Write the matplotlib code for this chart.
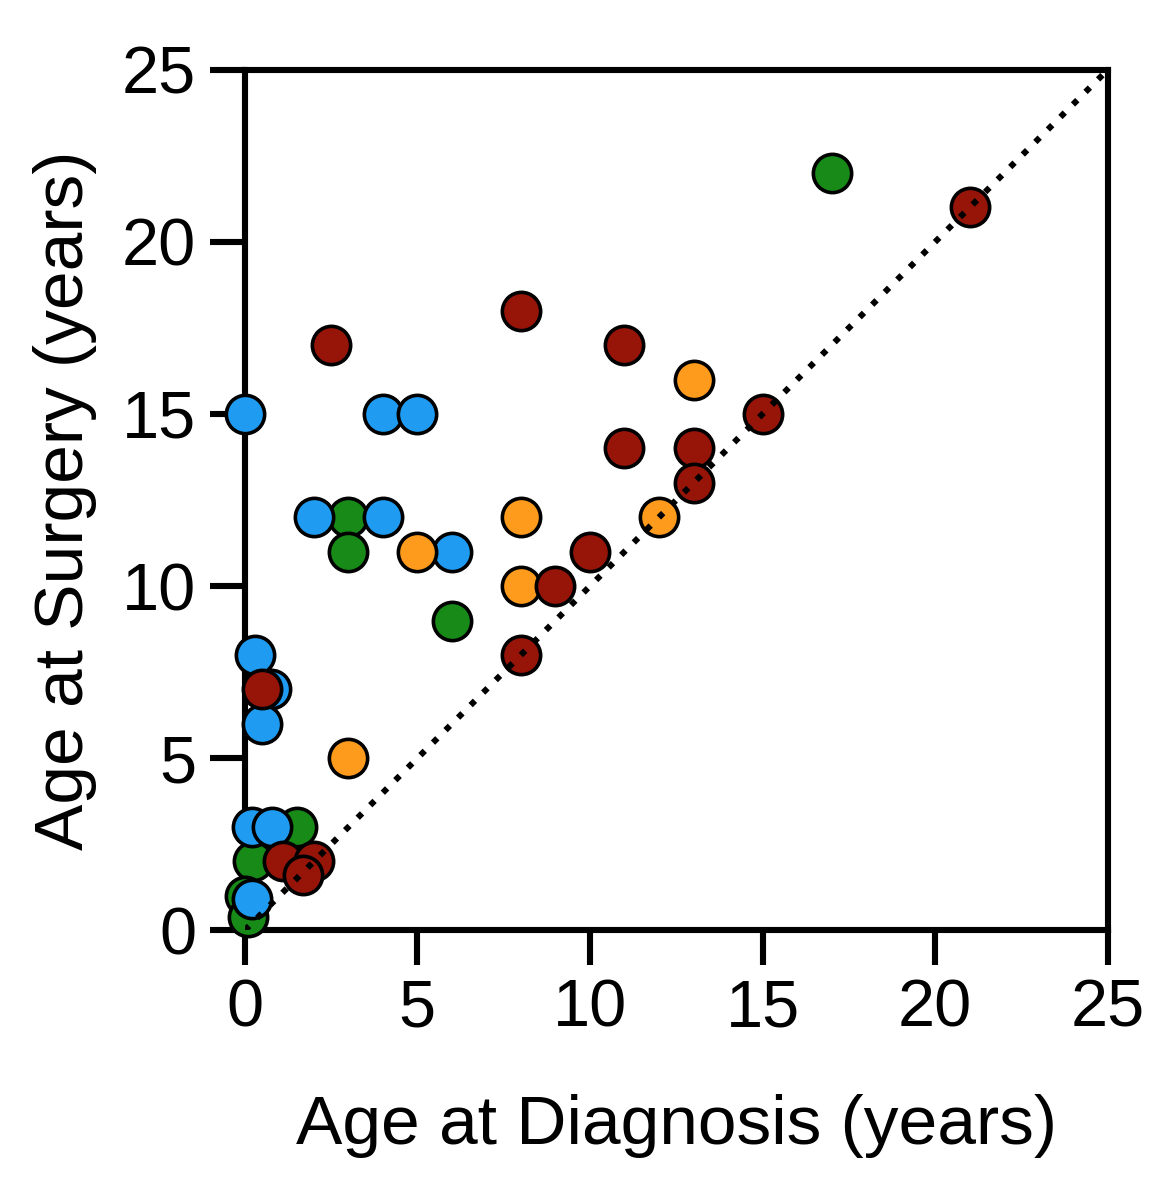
import matplotlib.pyplot as plt
import numpy as np

plt.rcParams['font.family'] = ['Liberation Sans', 'DejaVu Sans']

# age at diagnosis / age at surgery per group (years)
green_x = [6, 3, 3, 17, 1.5, 0.25, 0, 0.1]
green_y = [9, 12, 11, 22, 3, 2, 1, 0.4]

blue_x = [0, 4, 5, 2, 4, 6, 0.3, 0.75, 0.5, 0.2, 0.8, 0.2]
blue_y = [15, 15, 15, 12, 12, 11, 8, 7, 6, 3, 3, 0.9]

orange_x = [13, 8, 12, 5, 8, 3]
orange_y = [16, 12, 12, 11, 10, 5]

red_x = [2.5, 8, 11, 15, 11, 13, 13, 10, 9, 8, 21, 0.5, 1.1, 2, 1.7]
red_y = [17, 18, 17, 15, 14, 14, 13, 11, 10, 8, 21, 7, 2, 2, 1.6]

groups = [
    (green_x, green_y, '#178a17'),
    (blue_x, blue_y, '#1f9cf2'),
    (orange_x, orange_y, '#ff9b1c'),
    (red_x, red_y, '#971409'),
]

fig = plt.figure(figsize=(11.6, 12.02), dpi=100)
ax = fig.add_axes([0.211, 0.226, 0.744, 0.716])

for xs, ys, col in groups:
    ax.scatter(xs, ys, s=760, c=col, edgecolors='black', linewidths=2.6,
               zorder=3, clip_on=False)

# line of identity
ax.plot([0, 25], [0, 25], color='black', linestyle=(0, (1, 1.9)),
        linewidth=4.4, dash_capstyle='butt', zorder=4)

ax.set_xlim(0, 25)
ax.set_ylim(0, 25)
ax.set_xticks(np.arange(0, 26, 5))
ax.set_yticks(np.arange(0, 26, 5))

for sp in ax.spines.values():
    sp.set_linewidth(4.4)

ax.tick_params(axis='both', direction='out', length=25, width=4.4,
               labelsize=48, pad=10)

ax.set_xlabel('Age at Diagnosis (years)', fontsize=50, labelpad=38)
ax.set_ylabel('Age at Surgery (years)', fontsize=50, labelpad=18)

fig.savefig('out.png', dpi=100)
